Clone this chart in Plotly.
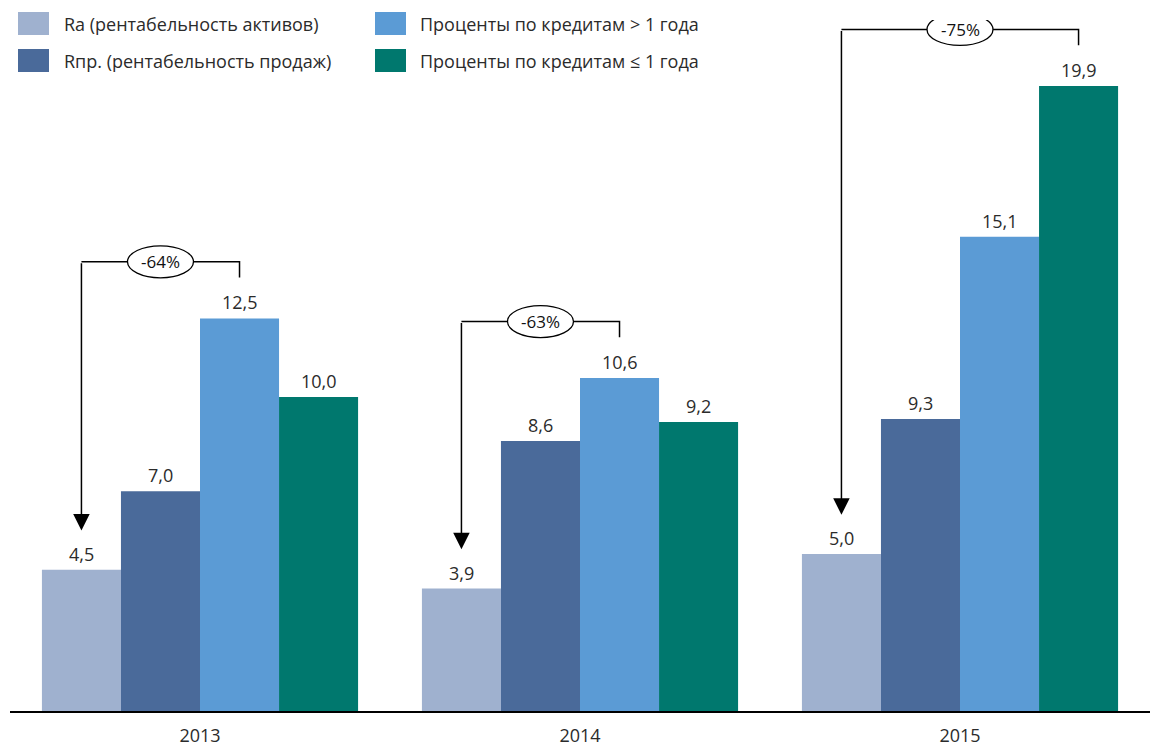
import plotly.graph_objects as go

years = ["2013", "2014", "2015"]
series_names = [
    "Ra (рентабельность активов)",
    "Rпр. (рентабельность продаж)",
    "Проценты по кредитам > 1 года",
    "Проценты по кредитам ≤ 1 года",
]
ra = [4.5, 3.9, 5.0]
rpr = [7.0, 8.6, 9.3]
loans_long = [12.5, 10.6, 15.1]
loans_short = [10.0, 9.2, 19.9]
colors = ["#9FB1CF", "#4A6A9A", "#5B9BD5", "#00786E"]

values = [ra, rpr, loans_long, loans_short]

W, H = 1154, 749
ML, MR, MT, MB = 10, 4, 20, 38
PW, PH = W - ML - MR, H - MT - MB
YMAX = 22.0
BARGAP = 0.168
NB = len(values)
bw = (1 - BARGAP) / NB
FONT = "Open Sans"
TXT = "#2b2b2b"

def px2paper(px, py):
    return (px - ML) / PW, (H - MB - py) / PH

def fmt(v):
    return f"{v:.1f}".replace(".", ",")

fig = go.Figure()
xs = list(range(len(years)))
for name, vals, col in zip(series_names, values, colors):
    fig.add_trace(go.Bar(x=xs, y=vals, name=name, marker=dict(color=col, line=dict(width=0)),
                         showlegend=False, hoverinfo="skip"))

annotations = []
shapes = []

# value labels
for i, vals in enumerate(values):
    for g, v in enumerate(vals):
        cx = g + (i - (NB - 1) / 2) * bw
        annotations.append(dict(x=cx, y=v, xref="x", yref="y", text=fmt(v), showarrow=False,
                                yanchor="bottom", yshift=2,
                                font=dict(family=FONT, size=18, color=TXT)))

# brackets with percentage drop (Ra vs the largest bar in group)
for g in range(len(years)):
    group_vals = [vals[g] for vals in values]
    imax = max(range(NB), key=lambda k: group_vals[k])
    vmax = group_vals[imax]
    x_ra = g + (0 - (NB - 1) / 2) * bw
    x_mx = g + (imax - (NB - 1) / 2) * bw
    hy = vmax + 1.8
    pct = round((1 - ra[g] / vmax) * 100)
    shapes.append(dict(type="path", xref="x", yref="y",
                       path=f"M{x_ra},{hy} L{x_mx},{hy} L{x_mx},{vmax + 1.3}",
                       line=dict(color="black", width=1.5), layer="above"))
    cx = (x_ra + x_mx) / 2
    shapes.append(dict(type="circle", xref="x", yref="y", xsizemode="pixel", ysizemode="pixel",
                       xanchor=cx, yanchor=hy, x0=-33, x1=33, y0=-16, y1=16,
                       fillcolor="white", line=dict(color="black", width=1.3), layer="above"))
    annotations.append(dict(x=cx, y=hy, xref="x", yref="y", text=f"-{pct}%", showarrow=False,
                            font=dict(family=FONT, size=17, color="#111111")))
    annotations.append(dict(x=x_ra, y=ra[g] + 1.25, xref="x", yref="y", ax=x_ra, ay=hy,
                            axref="x", ayref="y", text="", showarrow=True, arrowhead=2,
                            arrowsize=2.2, arrowwidth=1.5, arrowcolor="black", standoff=0))

# manual legend (2 x 2)
legend_pos = [(18, 12, 62), (18, 49, 62), (375, 12, 418), (375, 49, 418)]
for (sx, sy, tx), name, col in zip(legend_pos, series_names, colors):
    x0, y0 = px2paper(sx, sy + 23)
    x1, y1 = px2paper(sx + 31, sy)
    shapes.append(dict(type="rect", xref="paper", yref="paper", x0=x0, x1=x1, y0=y0, y1=y1,
                       fillcolor=col, line=dict(width=0)))
    tpx, tpy = px2paper(tx, sy + 11.5)
    annotations.append(dict(x=tpx, y=tpy, xref="paper", yref="paper", text=name, showarrow=False,
                            xanchor="left", yanchor="middle",
                            font=dict(family=FONT, size=18, color=TXT)))

fig.update_layout(
    width=W, height=H,
    margin=dict(l=ML, r=MR, t=MT, b=MB, autoexpand=False),
    paper_bgcolor="white", plot_bgcolor="white",
    barmode="group", bargap=BARGAP, bargroupgap=0,
    xaxis=dict(range=[-0.5, len(years) - 0.5], tickvals=xs, ticktext=years, showgrid=False,
               zeroline=False, showline=True, linecolor="black", linewidth=1.5, ticks="",
               ticklabelstandoff=8, automargin=False,
               tickfont=dict(family=FONT, size=18, color=TXT), fixedrange=True),
    yaxis=dict(range=[0, YMAX], visible=False, fixedrange=True, automargin=False),
    shapes=shapes,
    annotations=annotations,
    font=dict(family=FONT),
)

fig.write_html("out.html")
